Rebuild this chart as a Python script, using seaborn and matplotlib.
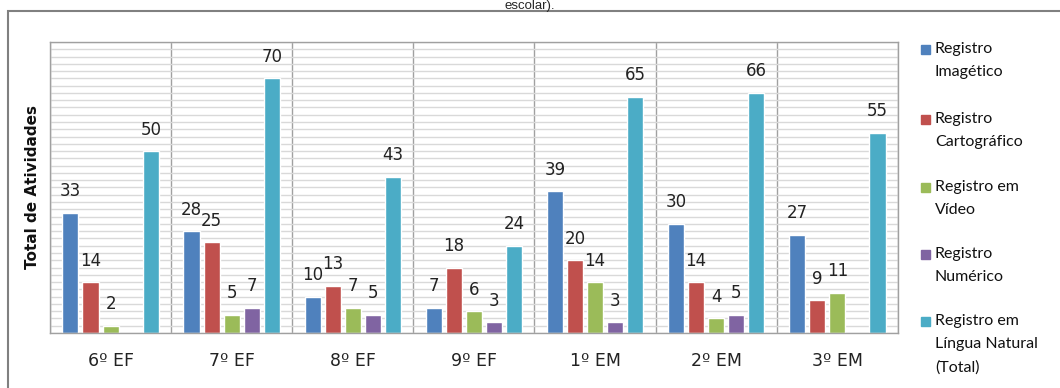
import seaborn as sns
import matplotlib.pyplot as plt
import matplotlib.patches as mpatches
import numpy as np
import pandas as pd

series = ['6º EF', '7º EF', '8º EF', '9º EF', '1º EM', '2º EM', '3º EM']
registros = ['Registro\nImagético', 'Registro\nCartográfico', 'Registro em\nVídeo',
             'Registro\nNumérico', 'Registro em\nLíngua Natural\n(Total)']
imagetico = [33, 28, 10, 7, 39, 30, 27]
cartografico = [14, 25, 13, 18, 20, 14, 9]
video = [2, 5, 7, 6, 14, 4, 11]
numerico = [np.nan, 7, 5, 3, 3, 5, np.nan]
lingua_natural = [50, 70, 43, 24, 65, 66, 55]

cores = ['#4F81BD', '#C0504D', '#9BBB59', '#8064A2', '#4BACC6']

valores = [imagetico, cartografico, video, numerico, lingua_natural]
linhas = []
for reg, vals in zip(registros, valores):
    for s, v in zip(series, vals):
        linhas.append({'Série': s, 'Registro': reg, 'Total': v})
df = pd.DataFrame(linhas)

sns.set_theme(style='white')
plt.rcParams['font.family'] = ['DejaVu Sans']

fig = plt.figure(figsize=(10.6, 3.88), dpi=100)
ax = fig.add_axes([0.0472, 0.1418, 0.7998, 0.75])

sns.barplot(data=df, x='Série', y='Total', hue='Registro', palette=cores,
            hue_order=registros, order=series, width=0.83, gap=0.2,
            saturation=1, legend=False, ax=ax)

for c in ax.containers:
    labels = ['' if np.isnan(b.get_height()) else str(int(b.get_height())) for b in c]
    ax.bar_label(c, labels=labels, padding=9, fontsize=12, color='#222222')

ax.set_ylim(0, 80)
ax.set_xlim(-0.5, len(series) - 0.5)
ax.set_yticks(np.arange(0, 81, 2))
ax.set_yticklabels([])
ax.tick_params(axis='y', length=0)
ax.tick_params(axis='x', length=0, labelsize=12.5, pad=14, colors='#222222')
ax.yaxis.grid(True, color='#D9D9D9', linewidth=1)
for xv in np.arange(-0.5, len(series), 1):
    ax.axvline(xv, color='#A0A0A0', linewidth=1, zorder=0.5)
ax.set_axisbelow(True)
for sp in ax.spines.values():
    sp.set_color('#A0A0A0')
    sp.set_linewidth(1)
ax.set_xlabel('')
ax.set_ylabel('Total de Atividades', fontsize=11, fontweight='bold',
              color='#111111', labelpad=4)

# moldura externa
fig.patches.append(mpatches.Rectangle((8 / 1060, -0.05), 1.1, 1 - 11 / 388 + 0.05,
                                      transform=fig.transFigure, fill=False,
                                      edgecolor='#808080', linewidth=1.5))
fig.text(0.5, 0.999, 'escolar).', ha='center', va='top', fontsize=9.5,
         family=['Liberation Sans', 'DejaVu Sans'])

# legenda
ys = [50, 120, 188, 255, 322]
for cor, reg, y in zip(cores, registros, ys):
    fig.patches.append(mpatches.Rectangle((921 / 1060, 1 - (y + 4) / 388), 9 / 1060, 9 / 388,
                                          transform=fig.transFigure, color=cor))
    fig.text(935 / 1060, 1 - (y - 8) / 388, reg, ha='left', va='top', fontsize=11.5,
             linespacing=1.8, color='#111111', family=['Lato', 'DejaVu Sans'])

fig.savefig('out.png', dpi=100)
